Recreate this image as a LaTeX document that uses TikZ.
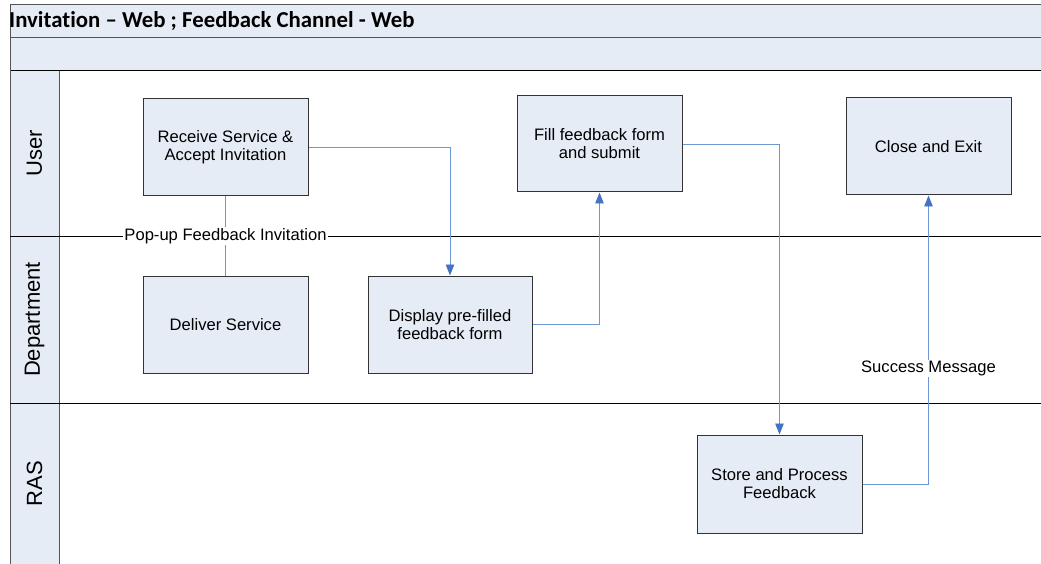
\documentclass[tikz,border=0pt]{standalone}
\usepackage{fontspec}
\setmainfont{Liberation Sans}
\newfontfamily\titlefont[Ligatures=NoCommon]{Carlito}
\usetikzlibrary{arrows.meta}
\definecolor{bandfill}{HTML}{E6ECF6}
\definecolor{boxfill}{HTML}{E6ECF6}
\definecolor{flow}{HTML}{6E98D4}
\definecolor{flowhead}{HTML}{4472C4}
\definecolor{frameline}{HTML}{555555}

\begin{document}
\begin{tikzpicture}[x=1pt,y=-1pt,
  stepbox/.style={draw=black!80, fill=boxfill, line width=1pt,
    minimum width=165pt, minimum height=97pt, align=center, inner sep=0pt,
    font=\fontsize{16.6}{18}\selectfont},
  conn/.style={draw=flow, line width=0.9pt},
  arr/.style={conn, -{Triangle[length=11pt,width=8.5pt,color=flowhead]}},
  msg/.style={fill=white, inner sep=1pt, font=\fontsize{16.6}{18}\selectfont},
  lanelabel/.style={rotate=90, inner sep=0pt, font=\fontsize{22}{24}\selectfont},
  frame/.style={draw=frameline, line width=1pt},
  divider/.style={draw=black, line width=1pt}
]
\useasboundingbox (0,0) rectangle (1041,564);

% header bands and lane-title column
\fill[bandfill] (10,5) rectangle (1041,71);
\fill[bandfill] (10,71) rectangle (59,564);
\draw[frame] (10,5) -- (1041,5);
\draw[frame] (10,38) -- (1041,38);
\draw[divider] (10,71) -- (1041,71);
\draw[frame] (10,5) -- (10,564);
\draw[frame] (59,71) -- (59,564);

% lane dividers
\draw[divider] (10,236.5) -- (1041,236.5);
\draw[divider] (10,403) -- (1041,403);

% title
\node[anchor=base west, inner sep=0pt, font=\titlefont\bfseries\fontsize{22.8}{24}\selectfont]
  (title) at (9,28) {Invitation – Web ; Feedback Channel - Web};

% lane titles
\node[lanelabel] (laneUser) at (34.5,153.5) {User};
\node[lanelabel] (laneDept) at (34.5,319.5) {Department};
\node[lanelabel] (laneRAS)  at (34.5,483.5) {RAS};

% process steps
\node[stepbox] (recv)  at (225.5,147.5) {Receive Service \&\\Accept Invitation};
\node[stepbox] (deliv) at (225.5,324.5) {Deliver Service};
\node[stepbox, minimum width=164pt] (disp) at (450,324.5) {Display pre-filled\\feedback form};
\node[stepbox, minimum height=96pt] (fill) at (599.5,144) {Fill feedback form\\and submit};
\node[stepbox] (close) at (928.5,146.5) {Close and Exit};
\node[stepbox, minimum height=98pt] (store) at (779.5,484) {Store and Process\\Feedback};

% flows
\draw[conn] (recv.south) -- node[msg] {Pop-up Feedback Invitation} (deliv.north);
\draw[arr] (recv.east) -| (disp.north);
\draw[arr] (disp.east) -| (fill.south);
\draw[arr] (fill.east) -| (store.north);
\draw[arr] (store.east) -| node[msg, pos=0.7] {Success Message} (close.south);
\end{tikzpicture}
\end{document}
